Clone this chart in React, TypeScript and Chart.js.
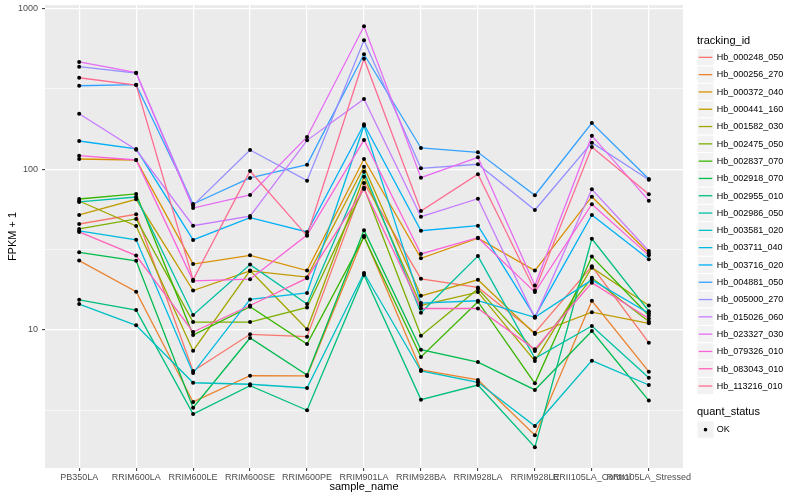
import React, { useEffect, useRef } from 'react';
import { Chart, registerables } from 'chart.js';

Chart.register(...registerables);

const FONT = "'Liberation Sans', Arial, Helvetica, sans-serif";

const categories = [
  'PB350LA', 'RRIM600LA', 'RRIM600LE', 'RRIM600SE', 'RRIM600PE', 'RRIM901LA',
  'RRIM928BA', 'RRIM928LA', 'RRIM928LE', 'RRII105LA_Control', 'RRII105LA_Stressed',
];

const trackingIds = [
  'Hb_000248_050', 'Hb_000256_270', 'Hb_000372_040', 'Hb_000441_160', 'Hb_001582_030',
  'Hb_002475_050', 'Hb_002837_070', 'Hb_002918_070', 'Hb_002955_010', 'Hb_002986_050',
  'Hb_003581_020', 'Hb_003711_040', 'Hb_003716_020', 'Hb_004881_050', 'Hb_005000_270',
  'Hb_015026_060', 'Hb_023327_030', 'Hb_079326_010', 'Hb_083043_010', 'Hb_113216_010',
];

const colors = [
  '#F8766D', '#EA8331', '#D89000', '#C09B00', '#A3A500', '#7CAE00', '#39B600', '#00BB4E',
  '#00BF7D', '#00C1A3', '#00BFC4', '#00BAE0', '#00B0F6', '#35A2FF', '#9590FF', '#C77CFF',
  '#E76BF3', '#FA62DB', '#FF62BC', '#FF6C91',
];

// FPKM + 1 per sample (same order as categories)
const hb_000248_050 = [45.6, 52.4, 5.56, 9.4, 9.09, 82.0, 20.8, 18.4, 9.62, 24.9, 8.34];
const hb_000256_270 = [27.0, 17.3, 3.57, 5.2, 5.18, 38.4, 5.64, 4.89, 2.22, 15.2, 5.51];
const hb_000372_040 = [115.6, 114.0, 25.7, 29.1, 23.4, 115.6, 27.9, 37.2, 23.4, 67.4, 30.0];
const hb_000441_160 = [51.9, 64.9, 17.6, 23.3, 21.3, 103.6, 16.3, 20.5, 9.44, 12.9, 11.0];
const hb_001582_030 = [63.4, 44.3, 7.43, 23.4, 10.1, 89.8, 14.2, 17.2, 6.42, 24.4, 14.2];
const hb_002475_050 = [42.5, 49.0, 11.2, 11.2, 13.8, 76.7, 9.22, 18.0, 7.4, 21.1, 11.3];
const hb_002837_070 = [65.2, 70.1, 9.31, 13.96, 8.18, 37.9, 6.8, 15.0, 4.66, 28.6, 12.3];
const hb_002918_070 = [30.4, 26.9, 3.29, 8.92, 5.25, 41.7, 7.54, 6.32, 4.24, 9.86, 3.64];
const hb_002955_010 = [15.4, 13.3, 3.0, 4.51, 3.17, 22.0, 3.69, 4.55, 1.87, 36.9, 13.1];
const hb_002986_050 = [62.5, 67.1, 12.4, 25.5, 14.5, 96.4, 12.8, 28.8, 6.67, 10.6, 5.05];
const hb_003581_020 = [14.5, 10.7, 4.7, 4.6, 4.36, 22.6, 5.56, 4.73, 2.53, 6.45, 4.55];
const hb_003711_040 = [41.3, 36.4, 5.4, 15.5, 17.0, 186.3, 14.7, 15.2, 12.0, 20.5, 12.7];
const hb_003716_020 = [149.6, 133.5, 36.3, 49.9, 40.7, 190.0, 41.4, 44.5, 12.1, 51.9, 27.5];
const hb_004881_050 = [330, 335, 60.7, 88.1, 106.6, 518, 135.4, 127.3, 68.8, 193.6, 86.9];
const hb_005000_270 = [433.5, 396, 59.5, 131.5, 84.8, 632, 101.2, 107.2, 55.7, 146, 86];
const hb_015026_060 = [221, 132, 44.5, 51.1, 151, 273, 50.6, 65.5, 11.9, 74.9, 31.0];
const hb_023327_030 = [464, 398, 57.3, 69.1, 158.5, 773, 88.5, 118.5, 18.9, 161.4, 63.7];
const hb_079326_010 = [121.2, 114, 20.2, 20.7, 38.9, 151.8, 29.7, 37.5, 17.2, 60.5, 29.1];
const hb_083043_010 = [40.7, 29.0, 9.72, 14.2, 21.0, 75.3, 13.6, 13.6, 7.59, 19.7, 11.8];
const hb_113216_010 = [370, 333, 20.5, 97.4, 38.5, 486, 54.9, 92.9, 17.6, 137.3, 69.8];

const seriesValues = [
  hb_000248_050, hb_000256_270, hb_000372_040, hb_000441_160, hb_001582_030,
  hb_002475_050, hb_002837_070, hb_002918_070, hb_002955_010, hb_002986_050,
  hb_003581_020, hb_003711_040, hb_003716_020, hb_004881_050, hb_005000_270,
  hb_015026_060, hb_023327_030, hb_079326_010, hb_083043_010, hb_113216_010,
];

const yTickValues = [10, 100, 1000];
const yTickLabels = ['10', '100', '1000'];
const yMinorBreaks = [3.1623, 31.623, 316.23];
const quantStatus = ['OK'];

const ggLegend = {
  id: 'ggLegend',
  beforeDraw(chart: any) {
    const { ctx, chartArea } = chart;
    ctx.save();
    ctx.fillStyle = '#FFFFFF';
    ctx.fillRect(0, 0, chart.width, chart.height);
    ctx.fillStyle = '#EBEBEB';
    ctx.fillRect(chartArea.left, chartArea.top, chartArea.right - chartArea.left, chartArea.bottom - chartArea.top);
    ctx.restore();
  },
  afterDraw(chart: any) {
    const ctx = chart.ctx;
    const x0 = 697;
    const keyH = 17.3;
    const keyW = 17;
    ctx.save();
    ctx.textBaseline = 'middle';
    ctx.textAlign = 'left';
    ctx.fillStyle = '#000000';
    ctx.font = `11px ${FONT}`;
    ctx.fillText('tracking_id', x0, 40.7);
    const top0 = 48.7;
    trackingIds.forEach((id, i) => {
      const top = top0 + i * keyH;
      ctx.fillStyle = '#F2F2F2';
      ctx.fillRect(x0, top, keyW, keyH);
      ctx.strokeStyle = '#FFFFFF';
      ctx.lineWidth = 1;
      ctx.strokeRect(x0, top, keyW, keyH);
      ctx.strokeStyle = colors[i];
      ctx.lineWidth = 1.3;
      ctx.beginPath();
      ctx.moveTo(x0 + 1.7, top + keyH / 2);
      ctx.lineTo(x0 + keyW - 1.7, top + keyH / 2);
      ctx.stroke();
      ctx.fillStyle = '#000000';
      ctx.font = `9px ${FONT}`;
      ctx.fillText(id, 716.7, top + keyH / 2 + 0.3);
    });
    ctx.font = `11px ${FONT}`;
    ctx.fillStyle = '#000000';
    ctx.fillText('quant_status', x0, 412.3);
    quantStatus.forEach((s, i) => {
      const top = 421 + i * keyH;
      ctx.fillStyle = '#F2F2F2';
      ctx.fillRect(x0, top, keyW, keyH);
      ctx.strokeStyle = '#FFFFFF';
      ctx.lineWidth = 1;
      ctx.strokeRect(x0, top, keyW, keyH);
      ctx.fillStyle = '#000000';
      ctx.beginPath();
      ctx.arc(x0 + keyW / 2, top + keyH / 2, 1.8, 0, Math.PI * 2);
      ctx.fill();
      ctx.font = `9px ${FONT}`;
      ctx.fillText(s, 716.7, top + keyH / 2 + 0.3);
    });
    ctx.restore();
  },
};

export default function App() {
  const ref = useRef<HTMLCanvasElement | null>(null);

  useEffect(() => {
    if (!ref.current) return;
    Chart.defaults.font.family = FONT;

    const lineSets = seriesValues.map((vals, s) => ({
      label: trackingIds[s],
      data: vals.map((v, i) => ({ x: i, y: v })),
      borderColor: colors[s],
      backgroundColor: colors[s],
      borderWidth: 1.3,
      pointRadius: 0,
      tension: 0,
      fill: false,
      order: seriesValues.length - s,
    }));

    const pointSet = {
      label: 'points',
      data: seriesValues.flatMap((vals) => vals.map((v, i) => ({ x: i, y: v }))),
      showLine: false,
      pointRadius: 2,
      pointBackgroundColor: '#000000',
      pointBorderWidth: 0,
      borderColor: '#000000',
      order: 0,
    };

    const majorOf = (v: number) => yTickValues.includes(v);

    const chart = new Chart(ref.current, {
      type: 'line',
      data: { datasets: [...lineSets, pointSet] as any },
      plugins: [ggLegend],
      options: {
        animation: false,
        responsive: false,
        maintainAspectRatio: false,
        layout: { padding: { left: 0, right: 117, top: 5, bottom: 0 } },
        plugins: {
          legend: { display: false },
          tooltip: { enabled: false },
        },
        scales: {
          x: {
            type: 'linear',
            min: -0.6,
            max: 10.6,
            afterBuildTicks: (scale: any) => {
              scale.ticks = categories.map((_, i) => ({ value: i }));
            },
            afterFit: (scale: any) => {
              scale.height = 32;
              scale.paddingLeft = 0;
              scale.paddingRight = 0;
            },
            ticks: {
              autoSkip: false,
              maxRotation: 0,
              minRotation: 0,
              padding: 1,
              color: '#4D4D4D',
              font: { size: 9, family: FONT },
              callback: (v: any) => categories[Number(v)] ?? '',
            },
            grid: {
              color: '#FFFFFF',
              lineWidth: 1.2,
              tickColor: '#333333',
              tickLength: 3,
              tickWidth: 1,
            },
            border: { display: false },
            title: {
              display: true,
              text: 'sample_name',
              color: '#000000',
              font: { size: 11, family: FONT },
              padding: { top: 0, bottom: 6 },
            },
          },
          y: {
            type: 'logarithmic',
            min: 1.387,
            max: 1048,
            afterBuildTicks: (scale: any) => {
              scale.ticks = [...yMinorBreaks, ...yTickValues]
                .sort((a, b) => a - b)
                .map((v) => ({ value: v }));
            },
            afterFit: (scale: any) => {
              scale.width = 45;
              scale.paddingTop = 0;
              scale.paddingBottom = 0;
            },
            ticks: {
              autoSkip: false,
              padding: 4,
              color: '#4D4D4D',
              font: { size: 9, family: FONT },
              callback: (v: any) => {
                const i = yTickValues.indexOf(Number(v));
                return i >= 0 ? yTickLabels[i] : '';
              },
            },
            grid: {
              color: '#FFFFFF',
              lineWidth: (ctx: any) => (ctx.tick && majorOf(ctx.tick.value) ? 1.2 : 0.6),
              tickColor: (ctx: any) => (ctx.tick && majorOf(ctx.tick.value) ? '#333333' : 'rgba(0,0,0,0)'),
              tickLength: 3,
              tickWidth: 1,
            },
            border: { display: false },
            title: {
              display: true,
              text: 'FPKM + 1',
              color: '#000000',
              font: { size: 11, family: FONT },
              padding: { top: 6, bottom: 0 },
            },
          },
        },
      } as any,
    });

    return () => chart.destroy();
  }, []);

  return (
    <div style={{ position: 'absolute', left: 0, top: 0, width: 800, height: 500 }}>
      <canvas ref={ref} width={800} height={500} style={{ width: 800, height: 500, display: 'block' }} />
    </div>
  );
}
